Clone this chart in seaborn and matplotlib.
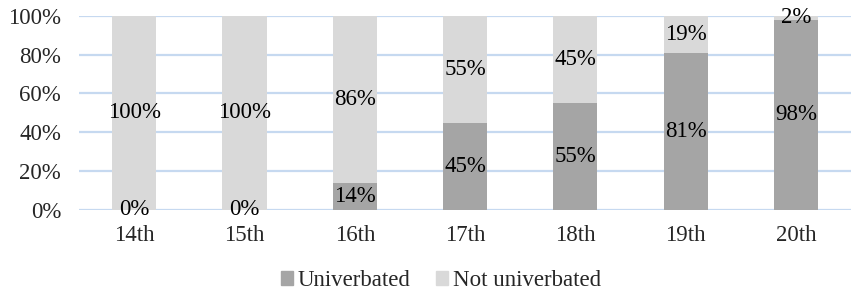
import matplotlib
matplotlib.use("Agg")
import matplotlib.pyplot as plt
import seaborn as sns
import pandas as pd
from matplotlib.patches import Patch

centuries = ["14th", "15th", "16th", "17th", "18th", "19th", "20th"]
univerbated = [0, 0, 14, 45, 55, 81, 98]
not_univerbated = [100, 100, 86, 55, 45, 19, 2]

sns.set_theme(style="white")
plt.rcParams['font.family'] = ['Liberation Serif', 'DejaVu Serif']

dark = "#a5a5a5"
light = "#d9d9d9"
FS = 16.5

df = pd.DataFrame({"century": centuries, "univ": univerbated, "notu": not_univerbated})
df["total"] = df["univ"] + df["notu"]

fig = plt.figure(figsize=(8.51, 2.94), dpi=100)
ax = fig.add_axes([0.093, 0.286, 0.907, 0.66])

sns.barplot(data=df, x="century", y="total", color=light, width=0.4, ax=ax, saturation=1,
            linewidth=0, edgecolor="none", zorder=2)
sns.barplot(data=df, x="century", y="univ", color=dark, width=0.4, ax=ax, saturation=1,
            linewidth=0, edgecolor="none", zorder=3)

for i, (u, n) in enumerate(zip(univerbated, not_univerbated)):
    uy = u / 2 if u > 0 else 0
    ax.text(i, uy, f"{u}%", ha="center", va="center", fontsize=FS, color="black", zorder=5)
    ax.text(i, u + n / 2, f"{n}%", ha="center", va="center", fontsize=FS, color="black", zorder=5)

ax.set_ylim(0, 100)
ax.set_xlim(-0.5, 6.5)
ax.set_yticks([0, 20, 40, 60, 80, 100])
ax.set_yticklabels([f"{v}%" for v in [0, 20, 40, 60, 80, 100]], fontsize=FS)
ax.tick_params(axis="x", labelsize=FS, length=0, pad=11)
ax.tick_params(axis="y", length=0, pad=13)
ax.set_xlabel("")
ax.set_ylabel("")
ax.yaxis.grid(True, color="#c6d9f0", linewidth=1.6, zorder=0)
ax.set_axisbelow(True)
for s in ax.spines.values():
    s.set_visible(False)

handles = [Patch(color=dark, label="Univerbated"), Patch(color=light, label="Not univerbated")]
fig.legend(handles=handles, loc="center", bbox_to_anchor=(0.518, 0.045), ncol=2, frameon=False,
           fontsize=FS, handlelength=0.55, handleheight=0.55, handletextpad=0.2, columnspacing=1.1)

fig.savefig("out.png", dpi=100)
